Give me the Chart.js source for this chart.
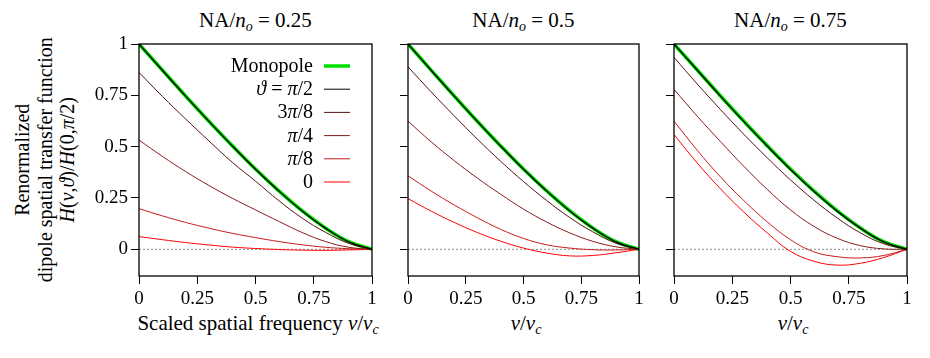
<!DOCTYPE html>
<html>
<head>
<meta charset="utf-8">
<script src="https://cdn.jsdelivr.net/npm/chart.js@4.4.0/dist/chart.umd.min.js"></script>
<style>
body{margin:0;width:930px;height:358px;position:relative;background:#fff;overflow:hidden;
  font-family:"Liberation Serif","Times New Roman",Times,serif;color:#000}
canvas{position:absolute;top:0}
.titulo{position:absolute;top:8px;width:240px;font-size:21px;line-height:24px;text-align:center;white-space:nowrap;
  font-family:"Liberation Serif","Times New Roman",Times,serif}
.ejeX{position:absolute;top:311px;width:300px;font-size:21px;line-height:24px;text-align:center;white-space:nowrap}
.ejeY{position:absolute;width:320px;font-size:20px;line-height:22.5px;text-align:center;white-space:nowrap;
  left:-115.5px;top:126px;transform:rotate(-90deg)}
sub{font-size:14px;line-height:0;vertical-align:-4px}
</style>
</head>
<body>
<div class="ejeY">Renormalized<br>dipole spatial transfer function<br><i>H</i>(<i>ν</i>,<i>ϑ</i>)/<i>H</i>(0,<i>π</i>/2)</div>
<div id="titulos"></div>
<div class="ejeX" style="left:108px">Scaled spatial frequency <i>ν</i>/<i>ν</i><sub><i>c</i></sub></div>
<div class="ejeX" style="left:376px"><i>ν</i>/<i>ν</i><sub><i>c</i></sub></div>
<div class="ejeX" style="left:643px"><i>ν</i>/<i>ν</i><sub><i>c</i></sub></div>
<canvas id="panel0" width="298" height="358"></canvas>
<canvas id="panel1" width="296" height="358"></canvas>
<canvas id="panel2" width="298" height="358"></canvas>
<script>
// valores (nu = frecuencia espacial escalada)
var nu = [0, 0.1, 0.2, 0.3, 0.4, 0.5, 0.6, 0.7, 0.8, 0.9, 1];
var monopolo = [1, 0.873, 0.747, 0.624, 0.505, 0.391, 0.285, 0.188, 0.104, 0.037, 0];

// NA/no = 0.25
var na25_pi2  = [1, 0.872, 0.746, 0.623, 0.504, 0.390, 0.284, 0.187, 0.103, 0.036, 0];
var na25_3pi8 = [0.862, 0.745, 0.635, 0.528, 0.424, 0.332, 0.237, 0.152, 0.083, 0.029, 0];
var na25_pi4  = [0.532, 0.453, 0.379, 0.311, 0.249, 0.192, 0.136, 0.082, 0.038, 0.010, 0];
var na25_pi8  = [0.198, 0.163, 0.131, 0.103, 0.078, 0.057, 0.038, 0.022, 0.010, 0.003, 0];
var na25_0    = [0.062, 0.047, 0.033, 0.021, 0.011, 0.004, -0.001, -0.004, -0.005, -0.003, 0];

// NA/no = 0.5
var na50_pi2  = [1, 0.872, 0.746, 0.623, 0.504, 0.390, 0.284, 0.187, 0.103, 0.036, 0];
var na50_3pi8 = [0.889, 0.767, 0.650, 0.537, 0.430, 0.330, 0.238, 0.155, 0.085, 0.030, 0];
var na50_pi4  = [0.624, 0.524, 0.432, 0.347, 0.269, 0.196, 0.133, 0.080, 0.039, 0.012, 0];
var na50_pi8  = [0.358, 0.284, 0.216, 0.154, 0.098, 0.053, 0.022, 0.006, -0.002, -0.003, 0];
var na50_0    = [0.247, 0.186, 0.131, 0.082, 0.040, 0.006, -0.018, -0.032, -0.030, -0.017, 0];

// NA/no = 0.75
var na75_pi2  = [1, 0.872, 0.745, 0.622, 0.503, 0.389, 0.283, 0.186, 0.103, 0.036, 0];
var na75_3pi8 = [0.935, 0.805, 0.680, 0.560, 0.446, 0.338, 0.240, 0.153, 0.080, 0.027, 0];
var na75_pi4  = [0.779, 0.648, 0.524, 0.404, 0.292, 0.192, 0.112, 0.054, 0.018, 0.002, 0];
var na75_pi8  = [0.624, 0.482, 0.352, 0.237, 0.134, 0.047, -0.012, -0.036, -0.042, -0.030, 0];
var na75_0    = [0.559, 0.420, 0.294, 0.181, 0.080, -0.010, -0.058, -0.077, -0.068, -0.040, 0];

var aperturas = ['0.25', '0.5', '0.75'];
var leyenda = ['Monopole', 'ϑ = π/2', '3π/8', 'π/4', 'π/8', '0'];
var xTicks = [0, 0.25, 0.5, 0.75, 1];
var yTicks = [0, 0.25, 0.5, 0.75, 1];
var tickLabels = ['0', '0.25', '0.5', '0.75', '1'];

var series = [
    [na25_pi2, na25_3pi8, na25_pi4, na25_pi8, na25_0],
    [na50_pi2, na50_3pi8, na50_pi4, na50_pi8, na50_0],
    [na75_pi2, na75_3pi8, na75_pi4, na75_pi8, na75_0]
];
var colores = ['#000000', '#561212', '#8b1a1a', '#c41c1c', '#ff0000'];
var verde = '#00e000';

// cajas de cada panel en la pagina
var panelIzq = [139, 408, 674];
var panelDer = [372, 639, 907];
var margenIzq = 50;

var familia = '"Liberation Serif", "Times New Roman", Times, serif';
Chart.defaults.font.family = familia;
Chart.defaults.font.size = 19;
Chart.defaults.color = '#000';

function puntos(ys){
    return nu.map((x, i) => ({x: x, y: ys[i]}));
}

/*texto con letras griegas en cursiva*/
function trozos(txt){
    let res = [];
    for(let ch of txt){
        let it = 'ϑπ'.includes(ch);
        if(res.length && res[res.length-1].it === it){
            res[res.length-1].t += ch;
        }else{
            res.push({t: ch, it: it});
        }
    }
    return res;
}

const marcoPlugin = {
    id: 'marco',
    afterDatasetsDraw(chart){
        const a = chart.chartArea;
        const ctx = chart.ctx;
        ctx.save();
        ctx.strokeStyle = '#000';
        ctx.lineWidth = 1.3;
        ctx.strokeRect(a.left, a.top, a.right - a.left, a.bottom - a.top);
        ctx.restore();
    }
};

const leyendaPlugin = {
    id: 'leyenda',
    afterDraw(chart){
        const ctx = chart.ctx;
        const der = chart.chartArea.right;
        const top = chart.chartArea.top;
        ctx.save();
        ctx.textBaseline = 'alphabetic';
        leyenda.forEach((txt, i) => {
            let y = top + 22 + i * 23.2;
            let partes = trozos(txt);
            let ancho = 0;
            partes.forEach(p => {
                ctx.font = (p.it ? 'italic ' : '') + '20px ' + familia;
                p.w = ctx.measureText(p.t).width;
                ancho += p.w;
            });
            let x = der - 59 - ancho;
            partes.forEach(p => {
                ctx.font = (p.it ? 'italic ' : '') + '20px ' + familia;
                ctx.fillStyle = '#000';
                ctx.fillText(p.t, x, y + 6);
                x += p.w;
            });
            ctx.beginPath();
            ctx.moveTo(der - 48, y);
            ctx.lineTo(der - 22, y);
            ctx.strokeStyle = i === 0 ? verde : colores[i-1];
            ctx.lineWidth = i === 0 ? 3.5 : 1;
            ctx.stroke();
        });
        ctx.restore();
    }
};

function crearPanel(n){
    let canvas = document.getElementById('panel' + n);
    canvas.style.left = (panelIzq[n] - margenIzq) + 'px';

    let datasets = [];
    datasets.push({
        data: [{x: 0, y: 0}, {x: 1, y: 0}],
        borderColor: '#8a8a8a', borderWidth: 1, borderDash: [2, 2],
        pointRadius: 0, order: 20
    });
    datasets.push({
        data: puntos(monopolo),
        borderColor: verde, borderWidth: 3.6,
        pointRadius: 0, tension: 0.4, order: 10
    });
    series[n].forEach((ys, i) => {
        datasets.push({
            data: puntos(ys),
            borderColor: colores[i], borderWidth: i === 0 ? 1.3 : 1,
            pointRadius: 0, tension: 0.4, order: i
        });
    });

    return new Chart(canvas.getContext('2d'), {
        type: 'line',
        data: {datasets: datasets},
        plugins: n === 0 ? [marcoPlugin, leyendaPlugin] : [marcoPlugin],
        options: {
            responsive: false,
            animation: false,
            events: [],
            layout: {padding: {left: 0, right: 15, top: 44, bottom: 0}},
            plugins: {legend: {display: false}, tooltip: {enabled: false}, title: {display: false}},
            scales: {
                x: {
                    type: 'linear', min: 0, max: 1,
                    afterFit: s => { s.height = 82; },
                    afterBuildTicks: s => { s.ticks = xTicks.map(v => ({value: v})); },
                    border: {display: false},
                    grid: {drawOnChartArea: false, tickLength: 8, color: '#000', lineWidth: 1},
                    ticks: {autoSkip: false, maxRotation: 0, padding: 4,
                        font: {family: familia, size: 19},
                        callback: (v, i) => tickLabels[i]}
                },
                y: {
                    type: 'linear', min: -0.13, max: 1,
                    afterFit: s => { s.width = margenIzq; },
                    afterBuildTicks: s => { s.ticks = yTicks.map(v => ({value: v})); },
                    border: {display: false},
                    grid: {drawOnChartArea: false, tickLength: 8, color: '#000', lineWidth: 1},
                    ticks: {autoSkip: false, padding: 3,
                        font: {family: familia, size: 19},
                        callback: (v, i) => n === 0 ? tickLabels[i] : ''}
                }
            }
        }
    });
}

let titulos = '';
aperturas.forEach((a, n) => {
    let centro = (panelIzq[n] + panelDer[n]) / 2;
    titulos += `<div class="titulo" style="left:${centro - 120}px">NA/<i>n</i><sub><i>o</i></sub> = ${a}</div>`;
});
document.getElementById('titulos').innerHTML = titulos;

// esperar a que las fuentes esten listas antes de dibujar
Promise.all([
    document.fonts.load('19px "Liberation Serif"'),
    document.fonts.load('italic 20px "Liberation Serif"')
]).catch(err => console.error(err)).then(() => {
    for(let n = 0; n < 3; n++){
        crearPanel(n);
    }
});
</script>
</body>
</html>
